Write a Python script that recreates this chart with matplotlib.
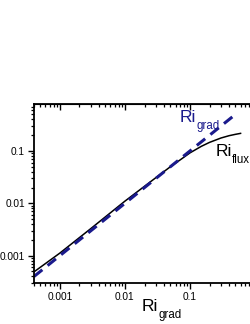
import matplotlib
matplotlib.use("Agg")
import matplotlib.pyplot as plt

plt.rcParams["font.family"] = "Liberation Sans"

# data
ri_grad = [4e-4, 0.001, 0.003, 0.01, 0.03, 0.05, 0.07, 0.1, 0.15, 0.2, 0.3, 0.4, 0.5, 0.6]
ri_flux = [4.9e-4, 1.12e-3, 3.3e-3, 0.011, 0.031, 0.05, 0.067, 0.092, 0.123, 0.146, 0.177, 0.196, 0.208, 0.217]
line_x = [4e-4, 0.5]
line_y = [4e-4, 0.5]
tick_vals = [0.001, 0.01, 0.1]
tick_labels = ["0.001", "0.01", "0.1"]

navy = "#1a1a8c"
dpi = 100

fig = plt.figure(figsize=(2.5, 3.24), dpi=dpi)
ax = fig.add_axes([0.136, 0.1265, 0.884, 0.5525])

ax.plot(ri_grad, ri_flux, color="black", lw=1.1)
ax.plot(line_x, line_y, color=navy, lw=2.2, dashes=(3.5, 2.2))

ax.set_xscale("log")
ax.set_yscale("log")
ax.set_xlim(4e-4, 1)
ax.set_ylim(3e-4, 0.79)

ax.set_xticks(tick_vals)
ax.set_xticklabels(tick_labels)
ax.set_yticks(tick_vals)
ax.set_yticklabels(tick_labels)

for s in ax.spines.values():
    s.set_linewidth(1.3)

ax.tick_params(which="major", length=4, width=1, labelsize=7.3, direction="out", pad=2.5)
ax.tick_params(which="minor", length=2.3, width=0.9, direction="out")

top = ax.secondary_xaxis("top")
top.set_xticks(tick_vals)
top.tick_params(which="major", length=4, width=1, direction="in", labeltop=False)
top.tick_params(which="minor", length=2.3, width=0.9, direction="in")


def sub_label(x, y, main, sub, color, coords):
    # big "Ri" followed by a lowered, smaller subscript
    t = ax.annotate(main, xy=(x, y), xycoords=coords, color=color, fontsize=12.5,
                    ha="left", va="baseline", annotation_clip=False)
    fig.canvas.draw()
    w = t.get_window_extent().width * 72 / dpi
    ax.annotate(sub, xy=(x, y), xycoords=coords, xytext=(w + 0.2, -5),
                textcoords="offset points", color=color, fontsize=8.3,
                ha="left", va="baseline", annotation_clip=False)


sub_label(0.070, 0.36, "Ri", "grad", navy, "data")
sub_label(0.245, 0.080, "Ri", "flux", "black", "data")
sub_label(141.5 / 250, 13 / 324, "Ri", "grad", "black", "figure fraction")

fig.savefig("out.png", dpi=dpi)
